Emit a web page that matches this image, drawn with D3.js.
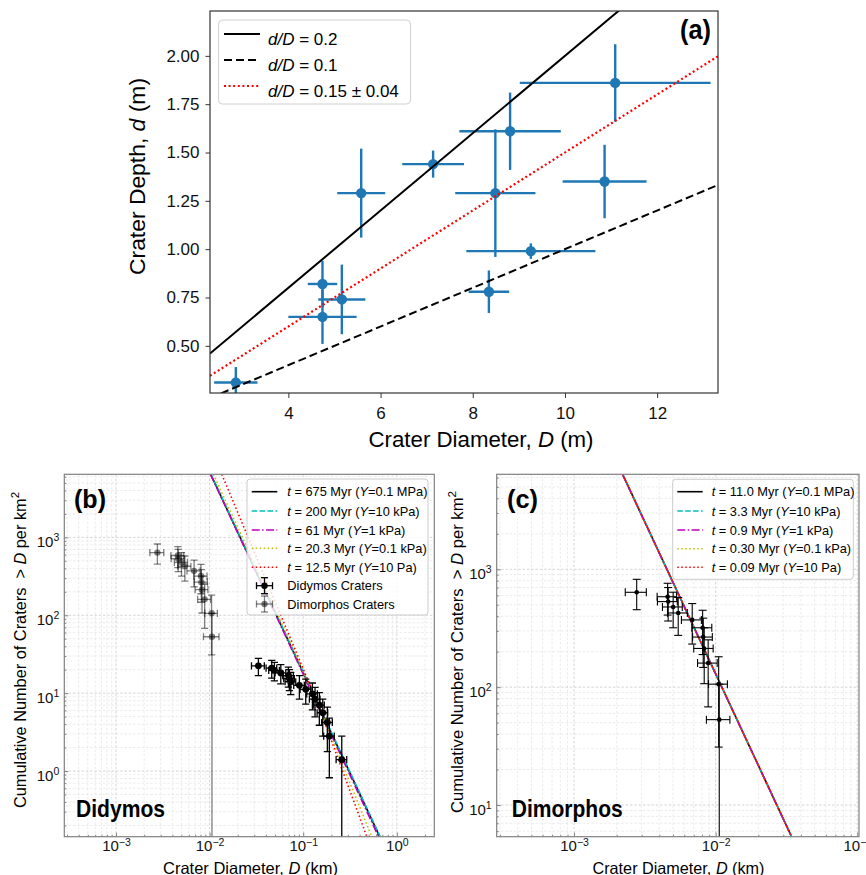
<!DOCTYPE html>
<html><head><meta charset="utf-8">
<script src="https://cdn.jsdelivr.net/npm/d3@7/dist/d3.min.js"></script>
<style>
html,body{margin:0;padding:0;background:#fff;}
svg{display:block;}
text{font-family:"Liberation Sans",Arial,Helvetica,sans-serif;}
</style></head>
<body>
<svg id="fig" width="866" height="875" xmlns="http://www.w3.org/2000/svg"></svg>
<script>
// ---------------- DATA ----------------
// Panel (a): crater depth vs diameter
const craterDiam      = [2.86, 4.74, 4.74, 5.16, 5.58, 7.14, 8.49, 8.81, 11.09, 10.86, 9.26, 8.35];
const craterDiamErr   = [0.47, 0.32, 0.74, 0.51, 0.52, 0.67, 0.87, 1.10, 2.07, 0.91, 1.40, 0.44];
const craterDepth     = [0.31, 0.82, 0.65, 0.74, 1.29, 1.44, 1.29, 1.61, 1.86, 1.35, 0.99, 0.78];
const craterDepthErr  = [0.08, 0.12, 0.14, 0.18, 0.23, 0.07, 0.33, 0.20, 0.20, 0.19, 0.04, 0.11];
const ratioValues = [0.2, 0.1, 0.15];
const ratioLabels = ["0.2", "0.1", "0.15 \u00b1 0.04"];
const aXTicks = [4, 6, 8, 10, 12];
const aYTicks = [0.50, 0.75, 1.00, 1.25, 1.50, 1.75, 2.00];

// Panel (b)/(c): cumulative crater counts
const didymosD    = [0.0332,0.0461,0.0492,0.0576,0.0694,0.0711,0.0736,0.0910,0.1064,0.1253,0.1337,0.1486,0.1617,0.181,0.190,0.258];
const didymosDErr = [0.0052,0.0060,0.0064,0.0075,0.0090,0.0092,0.0096,0.0118,0.0138,0.0163,0.0174,0.0193,0.0210,0.0235,0.0247,0.0335];
const didymosN    = [22.4,21.0,19.6,18.2,16.8,15.4,14.0,12.6,11.2,9.8,8.4,7.0,5.6,4.2,2.8,1.4];
const didymosNErr = [5.6,5.42,5.24,5.05,4.85,4.64,4.43,4.2,3.96,3.7,3.43,3.13,2.8,2.42,1.98,1.4];

const dimorphosD    = [0.00277,0.00458,0.00462,0.00501,0.00544,0.00683,0.00809,0.00817,0.0083,0.00885,0.0105,0.0106];
const dimorphosDErr = [0.00047,0.00072,0.00074,0.0008,0.00087,0.0011,0.0013,0.0013,0.0013,0.0014,0.0016,0.0020];
const dimorphosN    = [638,585,532,479,426,372,319,266,213,160,106,53];
const dimorphosNErr = [184,176,168,160,151,140,130,119,106,92,75,53];

// Model production curves (D in km, N per km^2)
const modelAgesB = ["675", "200", "61", "20.3", "12.5"];
const modelAgesC = ["11.0", "3.3", "0.9", "0.30", "0.09"];
const modelStrengths = ["0.1 MPa", "10 kPa", "1 kPa", "0.1 kPa", "10 Pa"];
const modelB_D = [[0.01028,0.656],[0.01035,0.664],[0.01023,0.637],[0.01096,0.0692,0.1426,0.540],[0.01349,0.0723,0.1426,0.478]];
const modelB_N = [[6457,0.1435],[6457,0.1435],[6457,0.1435],[6457,52,7.38,0.1435],[6457,52,7.38,0.1435]];
const modelC_D = [[0.002203,0.03436],[0.002205,0.03440],[0.002200,0.03432],[0.002203,0.03436],[0.002203,0.03436]];
const modelC_N = [[6397,5.38],[6397,5.38],[6397,5.38],[6397,5.38],[6397,5.38]];

const bXTicks = [1e-3, 1e-2, 1e-1, 1e0];
const bYTicks = [1e0, 1e1, 1e2, 1e3];
const cXTicks = [1e-3, 1e-2, 1e-1];
const cYTicks = [1e1, 1e2, 1e3];

// ---------------- STYLES ----------------
const modelColors = ["#000000", "#00bfbf", "#bf00bf", "#bfbf00", "#ff0000"];
const modelDash = [null, "5.5,2.4", "8,2.4,1.5,2.4", "1.5,2.5", "1.5,2.5"];
const blue = "#1f77b4";

const svg = d3.select("#fig");
const defs = svg.append("defs");
function clip(id, x0, y0, x1, y1) {
  defs.append("clipPath").attr("id", id).append("rect")
    .attr("x", x0).attr("y", y0).attr("width", x1 - x0).attr("height", y1 - y0);
  return `url(#${id})`;
}
function label(g, x, y, parts, o) {
  const t = g.append("text").attr("x", x).attr("y", y)
    .attr("font-size", o.size).attr("text-anchor", o.anchor || "start")
    .attr("fill", o.fill || "#000").style("white-space", "pre");
  if (o.rotate) t.attr("transform", `rotate(-90 ${x} ${y})`);
  if (o.bold) t.attr("font-weight", "bold");
  if (o.family) t.attr("font-family", o.family);
  parts.forEach(p => {
    const s = t.append("tspan").text(p.t);
    if (p.i) s.attr("font-style", "italic");
    if (p.sup) s.attr("font-size", o.size * 0.7).attr("dy", -o.size * 0.42);
  });
  if (o.len) t.attr("textLength", o.len).attr("lengthAdjust", "spacingAndGlyphs");
  return t;
}

// ================= PANEL (a) =================
const A = {l: 210, r: 718, t: 11, b: 393};
const xa = d3.scaleLinear().domain([2.3, 13.32]).range([A.l, A.r]);
const ya = d3.scaleLinear().domain([0.256, 2.232]).range([A.b, A.t]);
const ga = svg.append("g");

const axA = ga.append("g").attr("transform", `translate(0,${A.b})`)
  .call(d3.axisBottom(xa).tickValues(aXTicks).tickSize(5).tickPadding(8.5).tickFormat(d3.format("d")));
const ayA = ga.append("g").attr("transform", `translate(${A.l},0)`)
  .call(d3.axisLeft(ya).tickValues(aYTicks).tickSize(4.5).tickPadding(6).tickFormat(d3.format(".2f")));
[axA, ayA].forEach(a => {
  a.select(".domain").remove();
  a.selectAll(".tick line").attr("stroke", "#333").attr("stroke-width", 1);
  a.selectAll(".tick text").attr("font-size", 17).attr("fill", "#111")
    .attr("font-family", "Liberation Sans, Arial, sans-serif");
});

const clipA = clip("clipA", A.l, A.t, A.r, A.b);
const pa = ga.append("g").attr("clip-path", clipA);
// error bars
craterDiam.forEach((d, i) => {
  pa.append("line").attr("x1", xa(d - craterDiamErr[i])).attr("x2", xa(d + craterDiamErr[i]))
    .attr("y1", ya(craterDepth[i])).attr("y2", ya(craterDepth[i]))
    .attr("stroke", blue).attr("stroke-width", 2.4);
  pa.append("line").attr("x1", xa(d)).attr("x2", xa(d))
    .attr("y1", ya(craterDepth[i] - craterDepthErr[i])).attr("y2", ya(craterDepth[i] + craterDepthErr[i]))
    .attr("stroke", blue).attr("stroke-width", 2.4);
});
craterDiam.forEach((d, i) => {
  pa.append("circle").attr("cx", xa(d)).attr("cy", ya(craterDepth[i])).attr("r", 5.2).attr("fill", blue);
});
// ratio lines
const aLineStyles = [{c: "#000", d: null, w: 2}, {c: "#000", d: "8,4", w: 2}, {c: "#ff0000", d: "2,2.6", w: 2.2}];
const dom = xa.domain();
ratioValues.forEach((k, j) => {
  pa.append("path")
    .attr("d", d3.line().x(p => xa(p[0])).y(p => ya(p[1]))([[dom[0], k * dom[0]], [dom[1], k * dom[1]]]))
    .attr("fill", "none").attr("stroke", aLineStyles[j].c).attr("stroke-width", aLineStyles[j].w)
    .attr("stroke-dasharray", aLineStyles[j].d);
});
// frame
ga.append("rect").attr("x", A.l).attr("y", A.t).attr("width", A.r - A.l).attr("height", A.b - A.t)
  .attr("fill", "none").attr("stroke", "#333").attr("stroke-width", 1.2);
// legend
ga.append("rect").attr("x", 218.5).attr("y", 20).attr("width", 192).attr("height", 84).attr("rx", 4)
  .attr("fill", "#fff").attr("fill-opacity", 0.85).attr("stroke", "#d0d0d0");
const legY = [34, 60, 86];
ratioValues.forEach((k, j) => {
  ga.append("line").attr("x1", 224).attr("x2", 260).attr("y1", legY[j]).attr("y2", legY[j])
    .attr("stroke", aLineStyles[j].c).attr("stroke-width", aLineStyles[j].w)
    .attr("stroke-dasharray", aLineStyles[j].d);
  label(ga, 268, legY[j] + 10.5, [{t: "d/D", i: true}, {t: " = " + ratioLabels[j]}], {size: 17});
});
// labels
label(ga, 481, 447, [{t: "Crater Diameter, "}, {t: "D", i: true}, {t: " (m)"}], {size: 22, anchor: "middle", len: 225});
label(ga, 145, 176.5, [{t: "Crater Depth, "}, {t: "d", i: true}, {t: " (m)"}], {size: 22, anchor: "middle", rotate: true, len: 197});
label(ga, 711, 39, [{t: "(a)"}], {size: 27, anchor: "end", bold: true, family: "Liberation Sans Narrow, Liberation Sans, sans-serif", len: 31});

// ================= LOG PANELS =================
function logPanel(P, xDom, yDom, xMaj, yMaj, id) {
  const g = svg.append("g");
  const x = d3.scaleLog().domain(xDom).range([P.l, P.r]);
  const y = d3.scaleLog().domain(yDom).range([P.b, P.t]);
  const isMaj = v => Math.abs(Math.log10(v) - Math.round(Math.log10(v))) < 1e-6;
  const xt = x.ticks(), yt = y.ticks();
  const grid = g.append("g");
  xt.forEach(v => {
    grid.append("line").attr("x1", x(v)).attr("x2", x(v)).attr("y1", P.t).attr("y2", P.b)
      .attr("stroke", isMaj(v) ? "#cfcfcf" : "#e3e3e3").attr("stroke-width", isMaj(v) ? 0.9 : 0.7)
      .attr("stroke-dasharray", "2.5,1.8");
  });
  yt.forEach(v => {
    grid.append("line").attr("x1", P.l).attr("x2", P.r).attr("y1", y(v)).attr("y2", y(v))
      .attr("stroke", isMaj(v) ? "#cfcfcf" : "#e3e3e3").attr("stroke-width", isMaj(v) ? 0.9 : 0.7)
      .attr("stroke-dasharray", "2.5,1.8");
  });
  // minor ticks
  const minX = xt.filter(v => !isMaj(v)), minY = yt.filter(v => !isMaj(v));
  const fmt = () => "";
  const mx = g.append("g").attr("transform", `translate(0,${P.b})`)
    .call(d3.axisBottom(x).tickValues(minX).tickSizeInner(-2).tickSizeOuter(0).tickFormat(fmt));
  const my = g.append("g").attr("transform", `translate(${P.l},0)`)
    .call(d3.axisLeft(y).tickValues(minY).tickSizeInner(-2).tickSizeOuter(0).tickFormat(fmt));
  const ax = g.append("g").attr("transform", `translate(0,${P.b})`)
    .call(d3.axisBottom(x).tickValues(xMaj).tickSizeInner(-4).tickSizeOuter(0).tickPadding(4));
  const ay = g.append("g").attr("transform", `translate(${P.l},0)`)
    .call(d3.axisLeft(y).tickValues(yMaj).tickSizeInner(-4).tickSizeOuter(0).tickPadding(5));
  [mx, my, ax, ay].forEach(a => {
    a.select(".domain").remove();
    a.selectAll(".tick line").attr("stroke", "#777").attr("stroke-width", 0.9);
  });
  [ax, ay].forEach(a => {
    a.selectAll(".tick text").attr("font-size", 15).attr("fill", "#111")
      .attr("font-family", "Liberation Sans, Arial, sans-serif")
      .each(function(d) {
        const t = d3.select(this);
        t.text(null);
        const e = Math.round(Math.log10(d));
        t.append("tspan").text("10");
        t.append("tspan").text(e < 0 ? "\u2212" + (-e) : "" + e).attr("font-size", 10.5).attr("dy", "-0.55em");
      });
  });
  ax.selectAll(".tick text").attr("dy", "0.72em");
  ay.selectAll(".tick text").attr("dy", "0.62em");
  const cp = clip(id, P.l, P.t, P.r, P.b);
  const plot = g.append("g").attr("clip-path", cp);
  const top = g.append("g");
  g.append("rect").attr("x", P.l).attr("y", P.t).attr("width", P.r - P.l).attr("height", P.b - P.t)
    .attr("fill", "none").attr("stroke", "#808080").attr("stroke-width", 1.2);
  return {g, x, y, plot, top};
}

function drawModels(p, Ds, Ns) {
  Ds.forEach((dArr, j) => {
    const pts = dArr.map((d, k) => [d, Ns[j][k]]);
    p.plot.append("path").attr("d", d3.line().x(q => p.x(q[0])).y(q => p.y(q[1]))(pts))
      .attr("fill", "none").attr("stroke", modelColors[j]).attr("stroke-width", 1.6)
      .attr("stroke-dasharray", modelDash[j]);
  });
}

function drawErr(p, P, D, De, N, Ne, color, op, r, cap, sw) {
  const g = p.plot.append("g").attr("stroke", color).attr("stroke-opacity", op).attr("fill", color).attr("fill-opacity", op);
  D.forEach((d, i) => {
    const cx = p.x(d), cy = p.y(N[i]);
    const x0 = p.x(d - De[i]), x1 = p.x(d + De[i]);
    const yT = p.y(N[i] + Ne[i]);
    const lo = N[i] - Ne[i];
    const yB = lo > 0 ? p.y(lo) : P.b + 20;
    g.append("line").attr("x1", x0).attr("x2", x1).attr("y1", cy).attr("y2", cy).attr("stroke-width", sw);
    g.append("line").attr("x1", cx).attr("x2", cx).attr("y1", yT).attr("y2", yB).attr("stroke-width", sw);
    [x0, x1].forEach(xx => g.append("line").attr("x1", xx).attr("x2", xx).attr("y1", cy - cap).attr("y2", cy + cap).attr("stroke-width", sw));
    [yT, yB].forEach(yy => g.append("line").attr("x1", cx - cap).attr("x2", cx + cap).attr("y1", yy).attr("y2", yy).attr("stroke-width", sw));
    g.append("circle").attr("cx", cx).attr("cy", cy).attr("r", r).attr("stroke", "none");
  });
}

function modelLegend(g, box, rows, hx0, hx1, tx, ages) {
  g.append("rect").attr("x", box[0]).attr("y", box[1]).attr("width", box[2]).attr("height", box[3]).attr("rx", 3)
    .attr("fill", "#fff").attr("fill-opacity", 0.8).attr("stroke", "#cccccc");
  ages.forEach((a, j) => {
    g.append("line").attr("x1", hx0).attr("x2", hx1).attr("y1", rows[j]).attr("y2", rows[j])
      .attr("stroke", modelColors[j]).attr("stroke-width", 1.6).attr("stroke-dasharray", modelDash[j]);
    label(g, tx, rows[j] + 4.5, [{t: "t", i: true}, {t: " = " + a + " Myr ("}, {t: "Y", i: true}, {t: "=" + modelStrengths[j] + ")"}], {size: 12.8});
  });
}

function errHandle(g, cx, cy, color, op) {
  const h = g.append("g").attr("stroke", color).attr("stroke-opacity", op).attr("fill", color).attr("fill-opacity", op);
  h.append("line").attr("x1", cx - 8).attr("x2", cx + 8).attr("y1", cy).attr("y2", cy).attr("stroke-width", 1.3);
  h.append("line").attr("x1", cx).attr("x2", cx).attr("y1", cy - 8).attr("y2", cy + 8).attr("stroke-width", 1.3);
  [cx - 8, cx + 8].forEach(xx => h.append("line").attr("x1", xx).attr("x2", xx).attr("y1", cy - 3.5).attr("y2", cy + 3.5).attr("stroke-width", 1.3));
  [cy - 8, cy + 8].forEach(yy => h.append("line").attr("x1", cx - 3.5).attr("x2", cx + 3.5).attr("y1", yy).attr("y2", yy).attr("stroke-width", 1.3));
  h.append("circle").attr("cx", cx).attr("cy", cy).attr("r", 3.2).attr("stroke", "none");
}

// ================= PANEL (b) =================
const B = {l: 64.3, r: 434.3, t: 474.3, b: 836.7};
const pb = logPanel(B, [Math.pow(10, -3.552), Math.pow(10, 0.40)], [0.1435, 6457], bXTicks, bYTicks, "clipB");
drawModels(pb, modelB_D, modelB_N);
drawErr(pb, B, dimorphosD, dimorphosDErr, dimorphosN, dimorphosNErr, "#000", 0.5, 3.2, 3.6, 1.3);
drawErr(pb, B, didymosD, didymosDErr, didymosN, didymosNErr, "#000", 1, 3.4, 3.6, 1.3);
const legB = pb.top;
modelLegend(legB, [247, 479, 181, 136], [491.7, 511, 530, 548.3, 567.3], 251.7, 277.3, 287.3, modelAgesB);
errHandle(legB, 264.5, 585.7, "#000", 1);
errHandle(legB, 264.5, 604, "#000", 0.5);
label(legB, 287.3, 590.2, [{t: "Didymos Craters"}], {size: 12.8});
label(legB, 287.3, 608.5, [{t: "Dimorphos Craters"}], {size: 12.8});
label(legB, 74, 508, [{t: "(b)"}], {size: 26, bold: true, family: "Liberation Sans Narrow, Liberation Sans, sans-serif", len: 32});
label(legB, 76, 816.5, [{t: "Didymos"}], {size: 24, bold: true, family: "Liberation Sans Narrow, Liberation Sans, sans-serif", len: 89});
label(pb.g, 250.5, 873.5, [{t: "Crater Diameter, "}, {t: "D", i: true}, {t: " (km)"}], {size: 16.5, anchor: "middle", len: 175});
label(pb.g, 26, 650, [{t: "Cumulative Number of Craters  > "}, {t: "D", i: true}, {t: " per km"}, {t: "2", sup: true}], {size: 16, anchor: "middle", rotate: true, len: 316});

// ================= PANEL (c) =================
const C = {l: 496.7, r: 859, t: 474.3, b: 836.7};
const pc = logPanel(C, [Math.pow(10, -3.546), Math.pow(10, -0.988)], [Math.pow(10, 0.731), Math.pow(10, 3.806)], cXTicks, cYTicks, "clipC");
drawModels(pc, modelC_D, modelC_N);
drawErr(pc, C, dimorphosD, dimorphosDErr, dimorphosN, dimorphosNErr, "#000", 1, 2.3, 4, 1.1);
modelLegend(pc.top, [672.7, 479.3, 180.6, 100], [491.7, 511, 530, 548.7, 567.3], 677.3, 702.7, 711.7, modelAgesC);
label(pc.top, 507, 508, [{t: "(c)"}], {size: 26, bold: true, family: "Liberation Sans Narrow, Liberation Sans, sans-serif", len: 31});
label(pc.top, 511.7, 816.5, [{t: "Dimorphos"}], {size: 24, bold: true, family: "Liberation Sans Narrow, Liberation Sans, sans-serif", len: 111});
label(pc.g, 678.5, 873.5, [{t: "Crater Diameter, "}, {t: "D", i: true}, {t: " (km)"}], {size: 16.5, anchor: "middle", len: 172});
label(pc.g, 462.5, 652, [{t: "Cumulative Number of Craters  > "}, {t: "D", i: true}, {t: " per km"}, {t: "2", sup: true}], {size: 16, anchor: "middle", rotate: true, len: 322});
</script>
</body></html>
